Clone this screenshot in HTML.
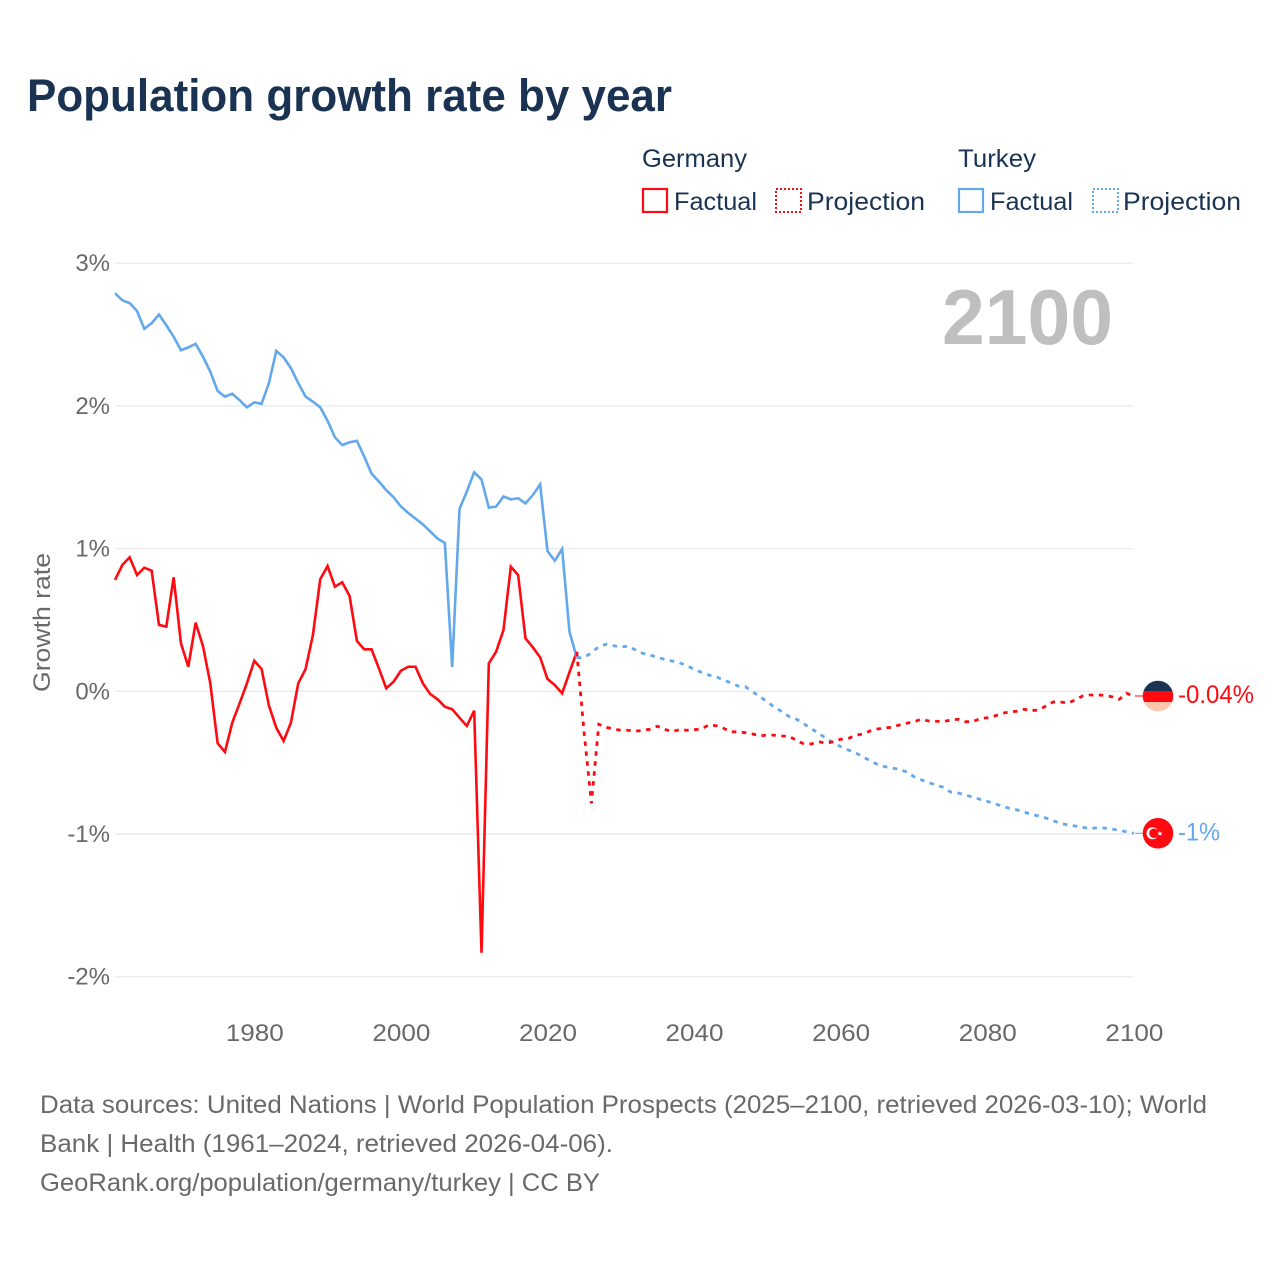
<!DOCTYPE html>
<html lang="en">
<head>
<meta charset="utf-8">
<title>Population growth rate by year</title>
<style>
  html, body { margin: 0; padding: 0; background: #ffffff; }
  svg { display: block; font-family: "Liberation Sans", sans-serif; }
  .tick { fill: #696969; font-size: 24px; }
  .legend { fill: #1a3352; font-size: 25px; }
  .foot { fill: #696969; font-size: 25px; }
</style>
</head>
<body>
<svg id="chart" width="1280" height="1280" viewBox="0 0 1280 1280" xmlns="http://www.w3.org/2000/svg">
  <rect x="0" y="0" width="1280" height="1280" fill="#ffffff"/>
  <text x="27" y="111" font-size="45" font-weight="700" fill="#1a3352" textLength="645" lengthAdjust="spacingAndGlyphs">Population growth rate by year</text>

  <g>
    <text class="legend" x="642" y="167" textLength="105" lengthAdjust="spacingAndGlyphs">Germany</text>
    <text class="legend" x="958" y="167" textLength="78" lengthAdjust="spacingAndGlyphs">Turkey</text>
    <g>
      <rect x="643" y="189" width="24" height="23" fill="none" stroke="#ff0a10" stroke-width="2.2"/>
      <text class="legend" x="674" y="210" textLength="83" lengthAdjust="spacingAndGlyphs">Factual</text>
    </g>
    <g>
      <rect x="776" y="189" width="25" height="23" fill="none" stroke="#ff0a10" stroke-width="2" stroke-dasharray="2 2"/>
      <text class="legend" x="807" y="210" textLength="118" lengthAdjust="spacingAndGlyphs">Projection</text>
    </g>
    <g>
      <rect x="959" y="189" width="24" height="23" fill="none" stroke="#64a8ec" stroke-width="2.2"/>
      <text class="legend" x="990" y="210" textLength="83" lengthAdjust="spacingAndGlyphs">Factual</text>
    </g>
    <g>
      <rect x="1093" y="189" width="25" height="23" fill="none" stroke="#64a8ec" stroke-width="2" stroke-dasharray="2 2"/>
      <text class="legend" x="1123" y="210" textLength="118" lengthAdjust="spacingAndGlyphs">Projection</text>
    </g>
  </g>

  <g id="grid"></g>
  <g id="yticks"></g>
  <g id="xticks"></g>

  <text class="tick" transform="translate(50,692) rotate(-90)" x="0" y="0" textLength="139" lengthAdjust="spacingAndGlyphs">Growth rate</text>
  <text x="1113" y="344" text-anchor="end" font-size="78" font-weight="700" fill="#bfbfbf" textLength="171" lengthAdjust="spacingAndGlyphs">2100</text>

  <g id="series"></g>

  <g id="flag-germany">
    <clipPath id="clip-de"><circle cx="0" cy="0" r="15.3"/></clipPath>
    <g clip-path="url(#clip-de)">
      <rect x="-16" y="-16" width="32" height="11" fill="#1a3352"/>
      <rect x="-16" y="-5" width="32" height="11" fill="#ff0a10"/>
      <rect x="-16" y="6" width="32" height="10" fill="#ffc6ad"/>
    </g>
    <text x="20" y="7" font-size="25" fill="#ff0a10" textLength="76" lengthAdjust="spacingAndGlyphs">-0.04%</text>
  </g>
  <g id="flag-turkey">
    <g>
      <circle cx="0" cy="0" r="15.3" fill="#ff0a10"/>
      <circle cx="-5.5" cy="0" r="6" fill="#ffffff"/>
      <circle cx="-4" cy="0" r="4.8" fill="#ff0a10"/>
      <polygon points="1.8,-2.4 2.6,-0.6 4.6,-0.7 3.1,0.5 3.7,2.4 1.8,1.3 0.2,2.4 0.6,0.5 -0.8,-0.7 1.1,-0.6" fill="#ffffff"/>
    </g>
    <text x="20" y="7" font-size="25" fill="#64a8ec" textLength="42" lengthAdjust="spacingAndGlyphs">-1%</text>
  </g>

  <g>
    <text class="foot" x="40" y="1113" textLength="1167" lengthAdjust="spacingAndGlyphs">Data sources: United Nations | World Population Prospects (2025–2100, retrieved 2026-03-10); World</text>
    <text class="foot" x="40" y="1152" textLength="573" lengthAdjust="spacingAndGlyphs">Bank | Health (1961–2024, retrieved 2026-04-06).</text>
    <text class="foot" x="40" y="1191" textLength="560" lengthAdjust="spacingAndGlyphs">GeoRank.org/population/germany/turkey | CC BY</text>
  </g>
</svg>

<script>
const factualStartYear = 1961;
const projectionStartYear = 2024;

const yTickValues = [3, 2, 1, 0, -1, -2];
const yTickLabels = ["3%", "2%", "1%", "0%", "-1%", "-2%"];
const xTickValues = [1980, 2000, 2020, 2040, 2060, 2080, 2100];
const xTickLabels = ["1980", "2000", "2020", "2040", "2060", "2080", "2100"];

const germanyFactual = [
  0.78, 0.885, 0.939, 0.815, 0.866, 0.845, 0.465, 0.453, 0.799, 0.336,
  0.172, 0.481, 0.317, 0.056, -0.364, -0.425, -0.22, -0.084, 0.056, 0.214,
  0.156, -0.1, -0.255, -0.348, -0.22, 0.056, 0.156, 0.394, 0.785, 0.878,
  0.733, 0.764, 0.668, 0.353, 0.294, 0.294, 0.161, 0.021, 0.067, 0.144,
  0.172, 0.172, 0.056, -0.019, -0.056, -0.108, -0.126, -0.185, -0.243, -0.136,
  -1.832, 0.196, 0.278, 0.43, 0.873, 0.815, 0.371, 0.308, 0.238, 0.086,
  0.044, -0.014, 0.133, 0.277
];

const turkeyFactual = [
  2.79, 2.74, 2.72, 2.665, 2.54, 2.58, 2.64, 2.565, 2.485, 2.39,
  2.41, 2.435, 2.345, 2.24, 2.105, 2.065, 2.085, 2.04, 1.99, 2.025,
  2.015, 2.16, 2.385, 2.34, 2.265, 2.16, 2.065, 2.03, 1.99, 1.895,
  1.78, 1.725, 1.745, 1.755, 1.645, 1.525, 1.47, 1.41, 1.36, 1.295,
  1.25, 1.21, 1.17, 1.12, 1.07, 1.04, 0.17, 1.278, 1.40, 1.535,
  1.485, 1.287, 1.295, 1.365, 1.345, 1.353, 1.317, 1.375, 1.45, 0.983,
  0.915, 0.997, 0.418, 0.235
];

const germanyProjection = [
  0.277, -0.29, -0.785, -0.231, -0.252, -0.264, -0.273, -0.273, -0.28, -0.273,
  -0.266, -0.245, -0.266, -0.283, -0.269, -0.273, -0.269, -0.264, -0.236, -0.241,
  -0.259, -0.283, -0.285, -0.29, -0.299, -0.313, -0.306, -0.308, -0.313, -0.315,
  -0.346, -0.369, -0.369, -0.353, -0.364, -0.353, -0.336, -0.332, -0.308, -0.3,
  -0.278, -0.264, -0.257, -0.252, -0.236, -0.224, -0.213, -0.196, -0.208, -0.21,
  -0.213, -0.201, -0.196, -0.213, -0.213, -0.192, -0.185, -0.173, -0.154, -0.145,
  -0.14, -0.126, -0.136, -0.131, -0.103, -0.075, -0.075, -0.082, -0.061, -0.033,
  -0.026, -0.026, -0.028, -0.038, -0.056, -0.014, -0.033
];

const turkeyProjection = [
  0.235, 0.237, 0.27, 0.313, 0.33, 0.32, 0.31, 0.317, 0.29, 0.266,
  0.254, 0.238, 0.224, 0.212, 0.2, 0.18, 0.154, 0.133, 0.114, 0.102,
  0.079, 0.06, 0.037, 0.032, -0.003, -0.038, -0.075, -0.112, -0.143, -0.178,
  -0.196, -0.229, -0.262, -0.294, -0.329, -0.36, -0.388, -0.411, -0.43, -0.458,
  -0.486, -0.512, -0.528, -0.537, -0.547, -0.565, -0.598, -0.62, -0.64, -0.657,
  -0.673, -0.706, -0.713, -0.727, -0.741, -0.757, -0.771, -0.788, -0.804, -0.82,
  -0.83, -0.846, -0.862, -0.874, -0.888, -0.907, -0.925, -0.937, -0.944, -0.953,
  -0.963, -0.956, -0.958, -0.965, -0.974, -0.984, -0.995
];

const SVG_NS = "http://www.w3.org/2000/svg";
const plotLeft = 115;
const plotRight = 1133.5;

function xScale(year) {
  return 115 + (year - 1961) * 7.33;
}
function yScale(value) {
  return 691.3 - value * 142.7;
}
function pointsFor(values, startYear) {
  return values.map(function (v, i) {
    return xScale(startYear + i).toFixed(2) + "," + yScale(v).toFixed(2);
  }).join(" ");
}

const gridGroup = document.getElementById("grid");
const yTickGroup = document.getElementById("yticks");
const xTickGroup = document.getElementById("xticks");
const seriesGroup = document.getElementById("series");

yTickValues.forEach(function (v, i) {
  const line = document.createElementNS(SVG_NS, "line");
  
  
  line.setAttribute("x1", plotLeft);
  line.setAttribute("x2", plotRight);
  line.setAttribute("y1", yScale(v));
  line.setAttribute("y2", yScale(v));
  line.setAttribute("stroke", "#ececec");
  line.setAttribute("stroke-width", "1.5");
  gridGroup.appendChild(line);

  const label = document.createElementNS(SVG_NS, "text");
  
  
  label.setAttribute("class", "tick");
  label.setAttribute("x", 110);
  label.setAttribute("y", yScale(v) + 8);
  label.setAttribute("text-anchor", "end");
  label.textContent = yTickLabels[i];
  yTickGroup.appendChild(label);
});

xTickValues.forEach(function (year, i) {
  const label = document.createElementNS(SVG_NS, "text");
  
  
  label.setAttribute("class", "tick");
  label.setAttribute("x", xScale(year) + 0.5);
  label.setAttribute("y", 1041);
  label.setAttribute("text-anchor", "middle");
  label.setAttribute("textLength", "58");
  label.setAttribute("lengthAdjust", "spacingAndGlyphs");
  label.textContent = xTickLabels[i];
  xTickGroup.appendChild(label);
});

function drawSeries(values, startYear, color, name, dashed) {
  const line = document.createElementNS(SVG_NS, "polyline");
  
  
  line.setAttribute("points", pointsFor(values, startYear));
  line.setAttribute("fill", "none");
  line.setAttribute("stroke", color);
  line.setAttribute("stroke-width", dashed ? "2.8" : "2.6");
  line.setAttribute("stroke-linejoin", "miter");
  if (dashed) {
    line.setAttribute("stroke-dasharray", "4.5 5.5");
  }
  seriesGroup.appendChild(line);
}

drawSeries(germanyFactual, factualStartYear, "#ff0a10", "germany-factual-line", false);
drawSeries(turkeyFactual, factualStartYear, "#64a8ec", "turkey-factual-line", false);
drawSeries(turkeyProjection, projectionStartYear, "#64a8ec", "turkey-projection-line", true);
drawSeries(germanyProjection, projectionStartYear, "#ff0a10", "germany-projection-line", true);

function drawConnector(value, color, name) {
  const connector = document.createElementNS(SVG_NS, "line");
  
  
  connector.setAttribute("x1", xScale(2100) + 1);
  connector.setAttribute("x2", 1143);
  connector.setAttribute("y1", yScale(value));
  connector.setAttribute("y2", yScale(value));
  connector.setAttribute("stroke", color);
  connector.setAttribute("stroke-width", "1");
  seriesGroup.appendChild(connector);
}

const germanyLast = germanyProjection[germanyProjection.length - 1];
const turkeyLast = turkeyProjection[turkeyProjection.length - 1];
drawConnector(germanyLast, "#ff0a10", "germany-end-connector");
drawConnector(turkeyLast, "#64a8ec", "turkey-end-connector");

document.getElementById("flag-germany").setAttribute("transform", "translate(1158," + yScale(germanyLast).toFixed(2) + ")");
document.getElementById("flag-turkey").setAttribute("transform", "translate(1158," + yScale(turkeyLast).toFixed(2) + ")");
</script>
</body>
</html>
